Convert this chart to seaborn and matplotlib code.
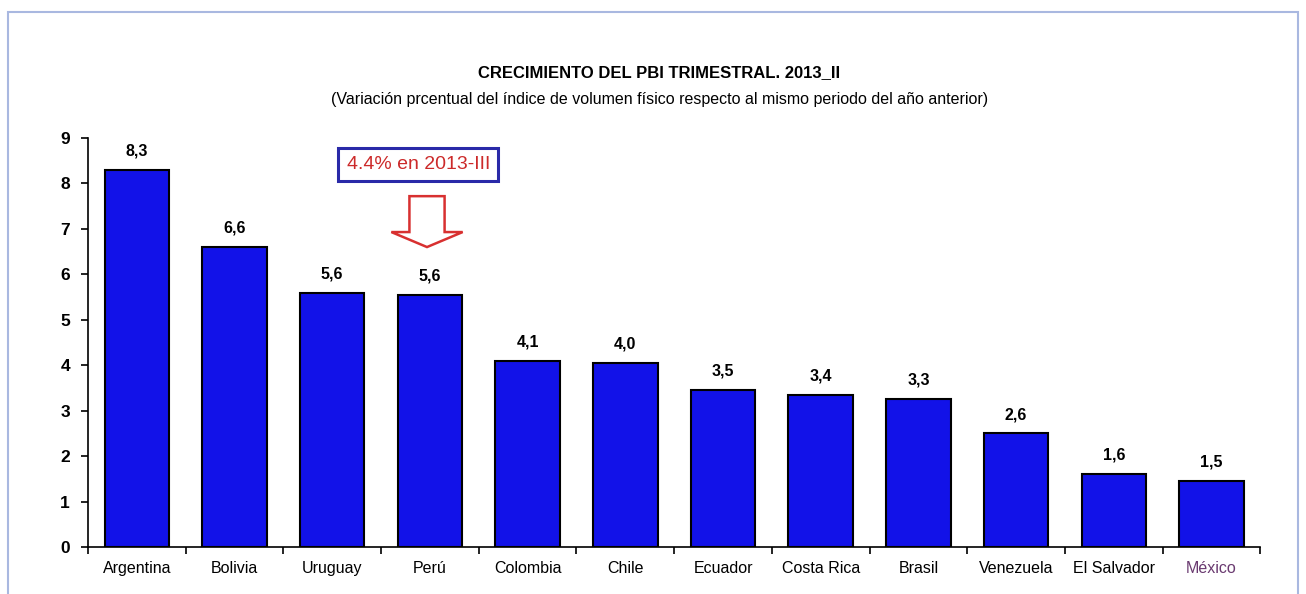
import pandas as pd
import seaborn as sns
import matplotlib.pyplot as plt
from matplotlib.patches import FancyArrow, Rectangle

paises = ['Argentina', 'Bolivia', 'Uruguay', 'Perú', 'Colombia', 'Chile', 'Ecuador',
          'Costa Rica', 'Brasil', 'Venezuela', 'El Salvador', 'México']
crecimiento = [8.3, 6.6, 5.6, 5.55, 4.1, 4.05, 3.45, 3.35, 3.25, 2.5, 1.6, 1.45]
etiquetas = ['8,3', '6,6', '5,6', '5,6', '4,1', '4,0', '3,5', '3,4', '3,3', '2,6', '1,6', '1,5']

df = pd.DataFrame({'pais': paises, 'valor': crecimiento})

sns.set_style('white')
plt.rcParams['font.family'] = ['Liberation Sans Narrow', 'Liberation Sans', 'DejaVu Sans']
plt.rcParams['text.color'] = 'black'
plt.rcParams['xtick.color'] = 'black'
plt.rcParams['ytick.color'] = 'black'
plt.rcParams['axes.edgecolor'] = 'black'

fig = plt.figure(figsize=(13.06, 5.94), dpi=100)
ax = fig.add_axes([0.0674, 0.0791, 0.8976, 0.6886])

sns.barplot(data=df, x='pais', y='valor', color='#1212e8', saturation=1,
            edgecolor='black', linewidth=1.5, width=0.66, ax=ax)

for i, (v, t) in enumerate(zip(crecimiento, etiquetas)):
    ax.text(i, v + 0.25, t, ha='center', va='bottom', fontsize=11.5, fontweight='bold')

ax.set_ylim(0, 9)
ax.set_xlim(-0.5, len(paises) - 0.5)
ax.set_yticks(range(10))
ax.set_xticks([x - 0.5 for x in range(len(paises) + 1)], minor=False)
ax.set_xticklabels([])
ax.set_xticks(range(len(paises)), minor=True)
ax.set_xticklabels(paises, minor=True, fontsize=11.5)
ax.tick_params(axis='x', which='minor', bottom=False, length=0, pad=10)
ax.tick_params(axis='x', which='major', bottom=True, length=5, width=1.2, direction='out')
ax.tick_params(axis='y', left=True, length=5, width=1.2, direction='out', pad=8)
for lbl in ax.get_yticklabels():
    lbl.set_fontweight('bold')
    lbl.set_fontsize(12.5)
ax.get_xticklabels(minor=True)[-1].set_color('#6a3a70')
ax.set_xlabel('')
ax.set_ylabel('')
sns.despine(ax=ax)
ax.spines['left'].set_linewidth(1.2)
ax.spines['bottom'].set_linewidth(1.2)

# recuadro de anotación y flecha
ax.text(2.88, 8.42, '4.4% en 2013-III', ha='center', va='center', fontsize=14,
        color='#cc2a2a', family=['Liberation Sans', 'DejaVu Sans'],
        bbox=dict(boxstyle='square,pad=0.42', facecolor='white', edgecolor='#2a2aa8', linewidth=2.2))
ax.add_patch(FancyArrow(2.97, 7.72, 0, -1.12, width=0.36, head_width=0.73, head_length=0.33,
                        length_includes_head=True, fill=False, edgecolor='#d83030', linewidth=1.8))

fig.text(0.505, 0.878, 'CRECIMIENTO DEL PBI TRIMESTRAL. 2013_II', ha='center', va='center',
         fontsize=12, fontweight='bold')
fig.text(0.505, 0.833, '(Variación prcentual del índice de volumen físico respecto al mismo periodo del año anterior)',
         ha='center', va='center', fontsize=11.5)

fig.patches.append(Rectangle((0.006, -0.02), 0.988, 1.0, transform=fig.transFigure,
                             fill=False, edgecolor='#a9b8e0', linewidth=1.5))

fig.savefig('out.png', dpi=100)
